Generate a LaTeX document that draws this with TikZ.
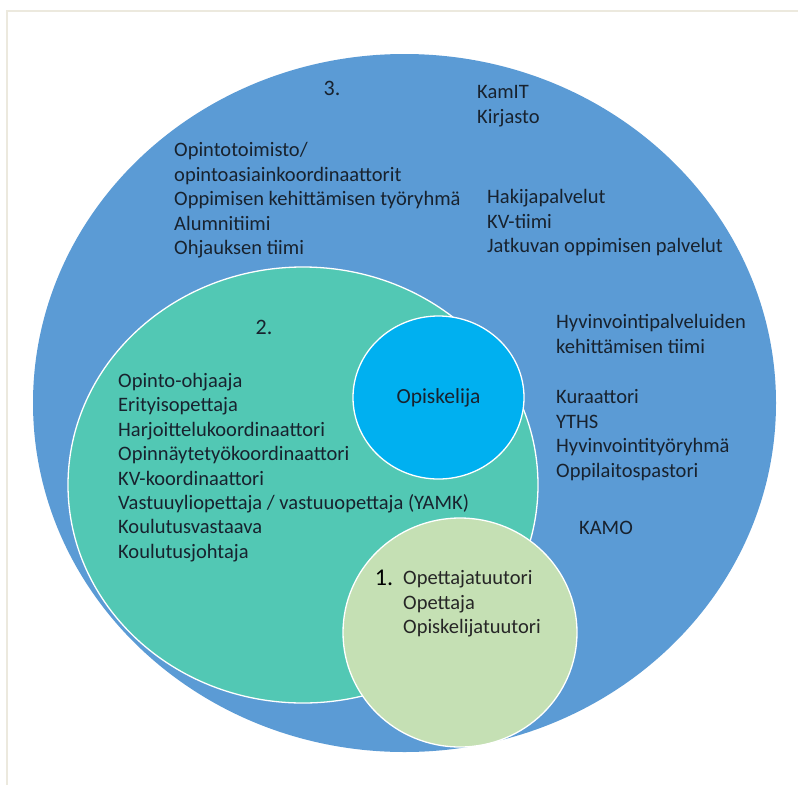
\documentclass[tikz,border=0pt]{standalone}
\usepackage{fontspec}
\setmainfont{Carlito}
\usetikzlibrary{shapes.geometric}
\definecolor{bigblue}{HTML}{5B9BD5}
\definecolor{teal2}{HTML}{52C8B4}
\definecolor{stud}{HTML}{00B0F0}
\definecolor{lgreen}{HTML}{C5E0B4}
\definecolor{frame}{HTML}{ECE9DE}
\definecolor{txt}{HTML}{18222E}
\tikzset{
  ring/.style={draw=white, line width=1.3pt},
  lbl/.style={anchor=base west, inner sep=0pt, text=txt, font=\fontsize{20.5}{24}\selectfont},
  num/.style={anchor=center, inner sep=0pt, text=txt, font=\fontsize{22}{24}\selectfont},
}
\begin{document}
\begin{tikzpicture}[x=1pt,y=-1pt]
\useasboundingbox (0,0) rectangle (798,785);
\fill[white] (0,0) rectangle (798,785);
% page frame
\draw[frame, line width=2pt] (7,785) -- (7,11) -- (798,11);
% circles
\fill[bigblue] (404.5,403) ellipse [x radius=371.5, y radius=349];
\filldraw[ring, fill=teal2] (303,485) ellipse [x radius=235, y radius=218];
\node[ring, fill=stud, ellipse, minimum width=171pt, minimum height=163pt, inner sep=0pt,
  text=txt, font=\fontsize{21.5}{24}\selectfont] (stud) at (438.5,397.5) {Opiskelija};
\filldraw[ring, fill=lgreen] (460,632.5) ellipse [x radius=117, y radius=114.5];
% level 3
\node[num] (n3) at (332,88) {3.};
\foreach \t [count=\i from 0] in {KamIT,Kirjasto}
  \node[lbl] (a\i) at (477,98.5+25*\i) {\t};
\foreach \t [count=\i from 0] in {Opintotoimisto/,opintoasiainkoordinaattorit,Oppimisen kehittämisen työryhmä,Alumnitiimi,Ohjauksen tiimi}
  \node[lbl] (b\i) at (174,156.5+24.5*\i) {\t};
\foreach \t [count=\i from 0] in {Hakijapalvelut,KV-tiimi,Jatkuvan oppimisen palvelut}
  \node[lbl] (c\i) at (487,203.5+24.5*\i) {\t};
\foreach \t [count=\i from 0] in {Hyvinvointipalveluiden,kehittämisen tiimi}
  \node[lbl] (d\i) at (556,328.5+25*\i) {\t};
\foreach \t [count=\i from 0] in {Kuraattori,YTHS,Hyvinvointityöryhmä,Oppilaitospastori}
  \node[lbl] (e\i) at (556,403.5+24.5*\i) {\t};
\node[lbl] (kamo) at (579,534.5) {KAMO};
% level 2
\node[num] (n2) at (264,327) {2.};
\foreach \t [count=\i from 0] in {Opinto-ohjaaja,Erityisopettaja,Harjoittelukoordinaattori,Opinnäytetyökoordinaattori,KV-koordinaattori,Vastuuyliopettaja / vastuuopettaja (YAMK),Koulutusvastaava,Koulutusjohtaja}
  \node[lbl] (f\i) at (118,387.5+24.4*\i) {\t};
% level 1
\node[num, text=black, font=\fontsize{24}{26}\selectfont] (n1) at (384,578) {1.};
\foreach \t [count=\i from 0] in {Opettajatuutori,Opettaja,Opiskelijatuutori}
  \node[lbl, text=black!85] (g\i) at (403,584.5+24.5*\i) {\t};
\end{tikzpicture}
\end{document}
